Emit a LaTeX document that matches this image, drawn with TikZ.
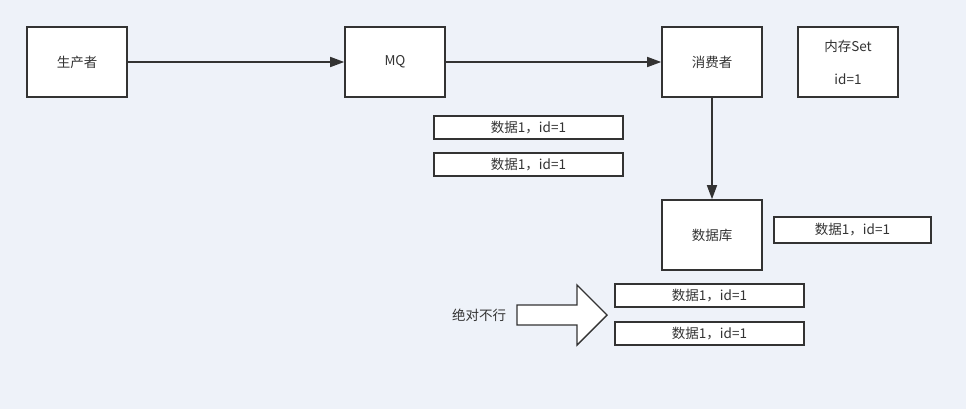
\documentclass[tikz,border=0pt]{standalone}
\usepackage{fontspec}
\setmainfont{Noto Sans CJK SC}
\usetikzlibrary{arrows.meta}
\definecolor{bg}{HTML}{EEF2F9}
\definecolor{ink}{HTML}{333333}
\begin{document}
\begin{tikzpicture}[x=1pt,y=-1pt,
  box/.style={draw=ink,line width=1.6pt,fill=white,inner sep=0pt},
  conn/.style={draw=ink,line width=1.6pt,-{Triangle[length=14pt,width=10pt]}},
  txt/.style={font=\fontsize{13.5}{16}\selectfont,text=ink}]
\fill[bg] (0,0) rectangle (966,409);
\useasboundingbox (0,0) rectangle (966,409);
\node[box,minimum width=100pt,minimum height=70pt,txt] (prod) at (77,62) {生产者};
\node[box,minimum width=100pt,minimum height=70pt,txt] (mq) at (395,62) {MQ};
\node[box,minimum width=100pt,minimum height=70pt,txt] (cons) at (712,62) {消费者};
\node[box,minimum width=100pt,minimum height=70pt,txt,align=center] (mem) at (848,62) {内存Set\\[17pt]id=1};
\node[box,minimum width=100pt,minimum height=70pt,txt] (db) at (712,235) {数据库};
\node[box,minimum width=189pt,minimum height=23pt,txt] (d1) at (528.5,127.5) {数据1，id=1};
\node[box,minimum width=189pt,minimum height=23pt,txt] (d2) at (528.5,164.5) {数据1，id=1};
\node[box,minimum width=157pt,minimum height=26pt,txt] (d3) at (852.5,230) {数据1，id=1};
\node[box,minimum width=189pt,minimum height=23pt,txt] (d4) at (709.5,295.5) {数据1，id=1};
\node[box,minimum width=189pt,minimum height=23pt,txt] (d5) at (709.5,333.5) {数据1，id=1};
\node[txt] (no) at (479,315) {绝对不行};
\draw[conn] (prod.east) -- (mq.west);
\draw[conn] (mq.east) -- (cons.west);
\draw[conn] (cons.south) -- (db.north);
\draw[draw=ink,line width=1.4pt,fill=white,line join=miter]
  (517,305) -- (577,305) -- (577,285) -- (607,315) -- (577,345) -- (577,325) -- (517,325) -- cycle;
\end{tikzpicture}
\end{document}
